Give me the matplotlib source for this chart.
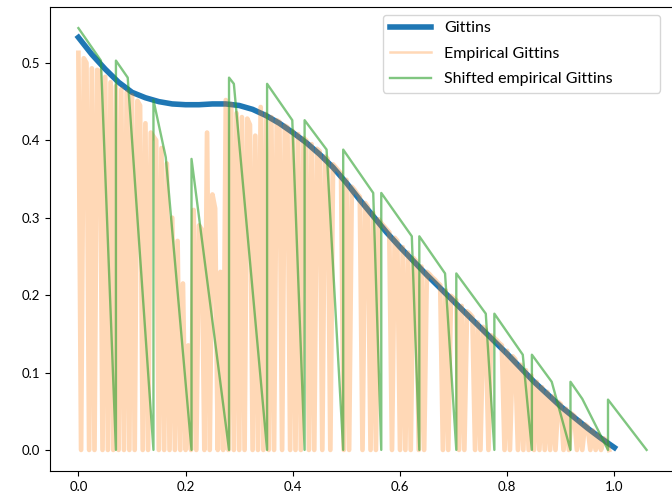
import numpy as np
import matplotlib
matplotlib.use('Agg')
import matplotlib.pyplot as plt

plt.rcParams['font.family'] = ['Lato', 'DejaVu Sans']

# Gittins index curve
gittins_x = [0.000, 0.025, 0.050, 0.075, 0.100, 0.125, 0.150, 0.175, 0.200, 0.225,
             0.250, 0.275, 0.300, 0.325, 0.350, 0.375, 0.400, 0.425, 0.450, 0.475,
             0.500, 0.525, 0.550, 0.575, 0.600, 0.625, 0.650, 0.675, 0.700, 0.725,
             0.750, 0.775, 0.800, 0.825, 0.850, 0.875, 0.900, 0.925, 0.950, 0.975, 1.000]
gittins_y = [0.533, 0.511, 0.492, 0.475, 0.462, 0.455, 0.450, 0.447, 0.446, 0.446,
             0.447, 0.447, 0.445, 0.440, 0.432, 0.422, 0.410, 0.397, 0.382, 0.365,
             0.345, 0.323, 0.302, 0.281, 0.262, 0.244, 0.226, 0.209, 0.192, 0.175,
             0.158, 0.141, 0.124, 0.106, 0.088, 0.072, 0.056, 0.042, 0.028, 0.015, 0.003]

# empirical Gittins, sampled every 0.005 (drops to 0 very often)
emp_step = 0.005
emp_y = [0.513,
         0, .506, .500, 0, .493, 0, .491, .489, 0, .482,
         0, .475, 0, .470, 0, .466, 0, .462, 0, .458,
         0, .451, .445, 0, .422, 0, .410, .405, .400, 0,
         .390, 0, .370, 0, .300, 0, .270, 0, .215, 0,
         .135, 0, .310, 0, .290, .285, 0, .410, 0, .330,
         .312, 0, .230, 0, .452, 0, .447, 0, .435, 0,
         .430, 0, .428, .420, 0, .406, 0, .443, 0, .434,
         0, .430, 0, .426, .424, 0, .419, .417, 0, .412,
         0, .408, 0, .403, .400, 0, .395, 0, .389, .386,
         0, .379, .376, 0, .369, .365, .361, .357, 0, .349,
         0, .340, .336, .331, .327, 0, .319, .314, 0, .306,
         0, .298, .293, .289, .285, .281, 0, .274, .270, 0,
         .262, 0, .255, 0, .248, .244, 0, .237, 0, .230,
         .227, .223, .220, .216, .213, 0, .206, 0, .199, .196,
         .193, 0, .186, 0, .179, .176, .172, 0, .165, 0,
         .159, .155, 0, .148, .145, .142, .138, .135, 0, .128,
         0, .121, .117, 0, .110, 0, .103, 0, .096, 0,
         .088, 0, .081, 0, .075, 0, .069, 0, .062, .059,
         0, .053, 0, .047, .044, 0, .038, 0, .033, .030,
         0, .025, 0, .020, 0, .015, .012, 0]
emp_x = np.arange(len(emp_y)) * emp_step

# shifted empirical Gittins (sawtooth)
shift_x = [0.000, 0.042, 0.070, 0.070, 0.092, 0.140, 0.140, 0.163, 0.211, 0.211,
           0.281, 0.281, 0.290, 0.352, 0.352, 0.399, 0.422, 0.422, 0.463, 0.494,
           0.494, 0.550, 0.565, 0.565, 0.622, 0.636, 0.636, 0.684, 0.705, 0.705,
           0.760, 0.776, 0.776, 0.829, 0.846, 0.846, 0.883, 0.918, 0.918, 0.940,
           0.988, 0.988, 1.060]
shift_y = [0.545, 0.503, 0.000, 0.503, 0.481, 0.000, 0.452, 0.378, 0.000, 0.376,
           0.000, 0.481, 0.473, 0.000, 0.473, 0.426, 0.000, 0.426, 0.388, 0.000,
           0.388, 0.332, 0.000, 0.332, 0.276, 0.000, 0.276, 0.228, 0.000, 0.228,
           0.176, 0.000, 0.176, 0.123, 0.000, 0.123, 0.088, 0.000, 0.088, 0.066,
           0.000, 0.065, 0.000]

fig = plt.figure(figsize=(6.72, 4.97), dpi=100)
ax = fig.add_axes([50/672, 26/497, 625/672, 464/497])

ax.plot(gittins_x, gittins_y, color='tab:blue', lw=4, label='Gittins')
ax.plot(emp_x, emp_y, color='tab:orange', alpha=0.3, lw=3.4, label='Empirical Gittins')
ax.plot(shift_x, shift_y, color='tab:green', alpha=0.6, lw=1.7, label='Shifted empirical Gittins')

ax.set_xticks([0.0, 0.2, 0.4, 0.6, 0.8, 1.0])
ax.set_yticks([0.0, 0.1, 0.2, 0.3, 0.4, 0.5])
ax.tick_params(labelsize=9.5)

leg = ax.legend(loc='upper right', bbox_to_anchor=(0.533, 0.0, 0.443, 0.983), mode='expand',
                borderaxespad=0, fontsize=11.5, labelspacing=0.7, handlelength=2.6)
leg.get_lines()[1].set_linewidth(1.8)

fig.savefig('out.png', dpi=100)
